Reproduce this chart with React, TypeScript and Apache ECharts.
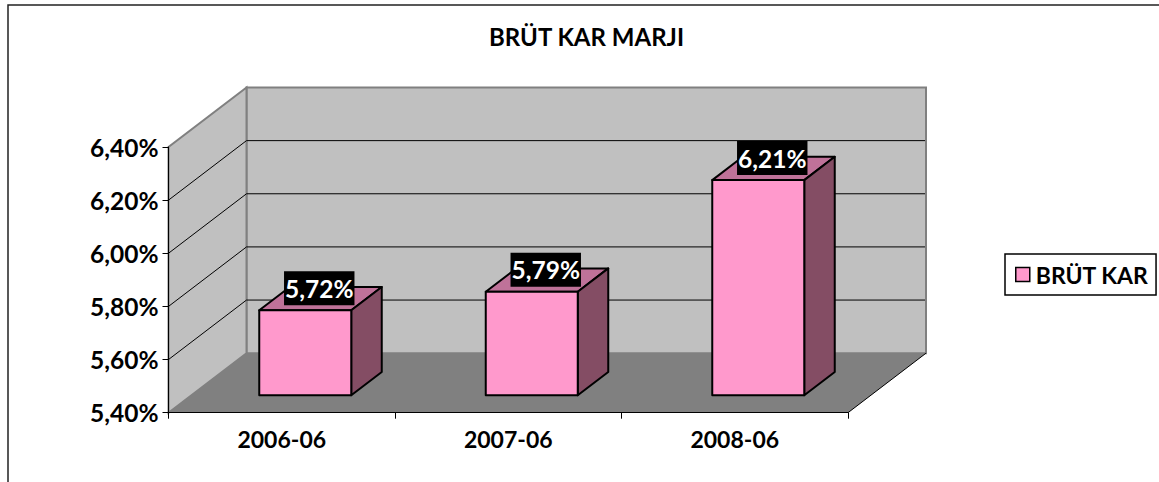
import React, { useEffect, useRef } from "react";
import * as echarts from "echarts";

const categories = ["2006-06", "2007-06", "2008-06"];
const values = [5.72, 5.79, 6.21];
const labels = ["5,72%", "5,79%", "6,21%"];
const seriesName = "BRÜT KAR";
const titleText = "BRÜT KAR MARJI";
const yMin = 5.4;
const yMax = 6.4;
const yStep = 0.2;
const gridValues = [5.6, 5.8, 6.0, 6.2];

const FONT = "Lato, sans-serif";
const DX = 78;
const DY = -59.5;
const BAR_W = 92;
const BAR_DX = 23.5;
const BAR_DY = -17.4;
const SIDE_DX = 30.5;
const SIDE_DY = -23.3;

const poly = (points: number[][], fill: string, stroke?: string, lw = 1.5) => ({
  type: "polygon",
  shape: { points },
  style: { fill, stroke: stroke || "none", lineWidth: lw },
  silent: true,
});
const seg = (a: number[], b: number[], stroke: string, lw = 1) => ({
  type: "line",
  shape: { x1: a[0], y1: a[1], x2: b[0], y2: b[1] },
  style: { stroke, lineWidth: lw },
  silent: true,
});

export default function App() {
  const ref = useRef<HTMLDivElement>(null);
  useEffect(() => {
    const chart = echarts.init(ref.current!, undefined, { renderer: "svg" });
    chart.setOption({
      animation: false,
      backgroundColor: "#fff",
      title: {
        text: titleText,
        left: 484,
        top: 19,
        textStyle: { fontFamily: FONT, fontWeight: "bold", fontSize: 24, color: "#000" },
      },
      legend: {
        left: 1005,
        top: 254,
        orient: "vertical",
        padding: [9, 7.5, 9, 10],
        itemWidth: 14,
        itemHeight: 14,
        itemGap: 0,
        borderColor: "#000",
        borderWidth: 1.5,
        backgroundColor: "#fff",
        selectedMode: false,
        textStyle: { fontFamily: FONT, fontWeight: "bold", fontSize: 23, color: "#000", padding: [0, 0, 0, 1] },
        data: [
          {
            name: seriesName,
            icon: "rect",
            itemStyle: { color: "#FF99CC", borderColor: "#000", borderWidth: 1.5 },
          },
        ],
      },
      grid: { left: 168.5, top: 147, width: 679.5, height: 265.7 },
      xAxis: {
        type: "category",
        data: categories,
        z: 5,
        axisLine: { lineStyle: { color: "#000", width: 1 } },
        axisTick: { show: true, length: 6, lineStyle: { color: "#000" } },
        axisLabel: { fontFamily: FONT, fontWeight: "bold", fontSize: 23, color: "#000", margin: 15 },
        splitLine: { show: false },
      },
      yAxis: {
        type: "value",
        min: yMin,
        max: yMax,
        interval: yStep,
        z: 5,
        axisLine: { show: true, lineStyle: { color: "#000", width: 1 } },
        axisTick: { show: true, length: 6, lineStyle: { color: "#000" } },
        axisLabel: {
          fontFamily: FONT,
          fontWeight: "bold",
          fontSize: 24.5,
          color: "#000",
          margin: 10,
          padding: [2, 0, 0, 0],
          formatter: (v: number) => v.toFixed(2).replace(".", ",") + "%",
        },
        splitLine: { show: false },
      },
      graphic: [
        {
          type: "polyline",
          shape: { points: [[8, 482], [8, 5], [1159, 5]] },
          style: { fill: "none", stroke: "#222", lineWidth: 1.5 },
          silent: true,
        },
      ],
      series: [
        {
          type: "custom",
          name: "walls",
          coordinateSystem: "cartesian2d",
          z: 1,
          silent: true,
          data: [0],
          renderItem: (_: any, api: any) => {
            const c = (i: number, v: number) => api.coord([i, v]);
            const band = api.size([1, 0])[0];
            const x0 = c(0, yMin)[0] - band / 2;
            const x1 = c(2, yMin)[0] + band / 2;
            const y0 = c(0, yMin)[1];
            const yT = c(0, yMax)[1];
            const children: any[] = [
              poly([[x0 + DX, yT + DY], [x1 + DX, yT + DY], [x1 + DX, y0 + DY], [x0 + DX, y0 + DY]], "#C0C0C0", "#808080", 2),
              poly([[x0, y0], [x0, yT], [x0 + DX, yT + DY], [x0 + DX, y0 + DY]], "#C0C0C0", "#808080", 2),
              poly([[x0, y0], [x0 + DX, y0 + DY], [x1 + DX, y0 + DY], [x1, y0]], "#808080"),
              seg([x1, y0], [x1 + DX, y0 + DY], "#000", 1),
            ];
            gridValues.forEach((v) => {
              const y = c(0, v)[1];
              children.push(seg([x0, y], [x0 + DX, y + DY], "#000", 1));
              children.push(seg([x0 + DX, y + DY], [x1 + DX - 1, y + DY], "#000", 1));
            });
            return { type: "group", children };
          },
        },
        {
          type: "custom",
          name: seriesName,
          coordinateSystem: "cartesian2d",
          z: 3,
          silent: true,
          itemStyle: { color: "#FF99CC" },
          data: values.map((v, i) => [i, v]),
          renderItem: (params: any, api: any) => {
            const i = api.value(0);
            const v = api.value(1);
            const top = api.coord([i, v]);
            const bottom = api.coord([i, yMin]);
            const l = top[0] - BAR_W / 2 + BAR_DX;
            const r = l + BAR_W;
            const t = top[1] + BAR_DY;
            const b = bottom[1] + BAR_DY;
            const line = { stroke: "#000", lineWidth: 2 };
            const f = (points: number[][], fill: string) => ({
              type: "polygon",
              shape: { points },
              style: { fill, ...line, lineJoin: "round" },
            });
            return {
              type: "group",
              children: [
                f([[l, t], [l + SIDE_DX, t + SIDE_DY], [r + SIDE_DX, t + SIDE_DY], [r, t]], "#BF7299"),
                f([[r, t], [r + SIDE_DX, t + SIDE_DY], [r + SIDE_DX, b + SIDE_DY], [r, b]], "#844D64"),
                f([[l, t], [r, t], [r, b], [l, b]], "#FF99CC"),
                {
                  type: "text",
                  z2: 10,
                  style: {
                    text: labels[params.dataIndex],
                    x: (l + r) / 2 + 14,
                    y: t - 22,
                    align: "center",
                    verticalAlign: "middle",
                    fill: "#fff",
                    font: `bold 24.5px ${FONT}`,
                    backgroundColor: "#000",
                    padding: [5, 1, 4, 1],
                  },
                },
              ],
            };
          },
        },
      ],
    });
    return () => chart.dispose();
  }, []);
  return <div ref={ref} style={{ position: "fixed", left: 0, top: 0, width: 1159, height: 482 }} />;
}
